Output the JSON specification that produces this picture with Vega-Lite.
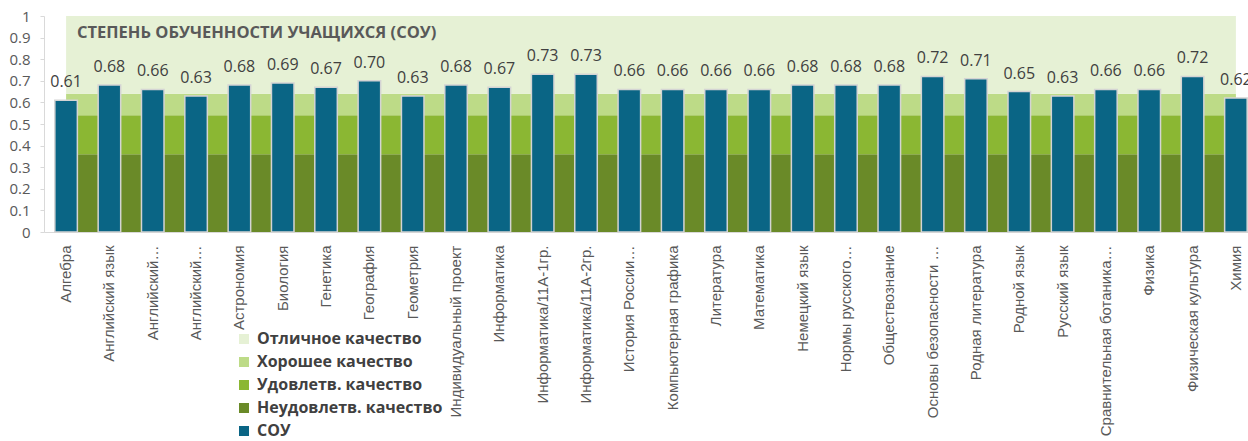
{
  "$schema": "https://vega.github.io/schema/vega-lite/v6.json",
  "width": 1204,
  "height": 216,
  "autosize": {"type": "none"},
  "padding": {"left": 44, "top": 16, "right": 0, "bottom": 209},
  "background": "white",
  "title": {
    "text": "СТЕПЕНЬ ОБУЧЕННОСТИ УЧАЩИХСЯ (СОУ)",
    "anchor": "start",
    "frame": "group",
    "baseline": "alphabetic",
    "offset": 0,
    "dx": 33,
    "dy": 45,
    "font": "Open Sans",
    "fontSize": 16.5,
    "fontWeight": "bold",
    "color": "#595959"
  },
  "datasets": {
    "sou": [
      {"c": "Алгебра", "s": "СОУ", "v": 0.61},
      {"c": "Английский язык", "s": "СОУ", "v": 0.68},
      {"c": "Английский…", "s": "СОУ", "v": 0.66},
      {"c": " Английский…", "s": "СОУ", "v": 0.63},
      {"c": "Астрономия", "s": "СОУ", "v": 0.68},
      {"c": "Биология", "s": "СОУ", "v": 0.69},
      {"c": "Генетика", "s": "СОУ", "v": 0.67},
      {"c": "География", "s": "СОУ", "v": 0.70},
      {"c": "Геометрия", "s": "СОУ", "v": 0.63},
      {"c": "Индивидуальный проект", "s": "СОУ", "v": 0.68},
      {"c": "Информатика", "s": "СОУ", "v": 0.67},
      {"c": "Информатика/11А-1гр.", "s": "СОУ", "v": 0.73},
      {"c": "Информатика/11А-2гр.", "s": "СОУ", "v": 0.73},
      {"c": "История России…", "s": "СОУ", "v": 0.66},
      {"c": "Компьютерная графика", "s": "СОУ", "v": 0.66},
      {"c": "Литература", "s": "СОУ", "v": 0.66},
      {"c": "Математика", "s": "СОУ", "v": 0.66},
      {"c": "Немецкий язык", "s": "СОУ", "v": 0.68},
      {"c": "Нормы русского…", "s": "СОУ", "v": 0.68},
      {"c": "Обществознание", "s": "СОУ", "v": 0.68},
      {"c": "Основы безопасности …", "s": "СОУ", "v": 0.72},
      {"c": "Родная литература", "s": "СОУ", "v": 0.71},
      {"c": "Родной язык", "s": "СОУ", "v": 0.65},
      {"c": "Русский язык", "s": "СОУ", "v": 0.63},
      {"c": "Сравнительная ботаника…", "s": "СОУ", "v": 0.66},
      {"c": "Физика", "s": "СОУ", "v": 0.66},
      {"c": "Физическая культура", "s": "СОУ", "v": 0.72},
      {"c": "Химия", "s": "СОУ", "v": 0.62}
    ],
    "bands": [
      {"c": "Алгебра", "s": "Неудовлетв. качество", "lo": 0, "hi": 0.36},
      {"c": "Алгебра", "s": "Удовлетв. качество", "lo": 0.36, "hi": 0.54},
      {"c": "Алгебра", "s": "Хорошее качество", "lo": 0.54, "hi": 0.64},
      {"c": "Алгебра", "s": "Отличное качество", "lo": 0.64, "hi": 1},
      {"c": "Английский язык", "s": "Неудовлетв. качество", "lo": 0, "hi": 0.36},
      {"c": "Английский язык", "s": "Удовлетв. качество", "lo": 0.36, "hi": 0.54},
      {"c": "Английский язык", "s": "Хорошее качество", "lo": 0.54, "hi": 0.64},
      {"c": "Английский язык", "s": "Отличное качество", "lo": 0.64, "hi": 1},
      {"c": "Английский…", "s": "Неудовлетв. качество", "lo": 0, "hi": 0.36},
      {"c": "Английский…", "s": "Удовлетв. качество", "lo": 0.36, "hi": 0.54},
      {"c": "Английский…", "s": "Хорошее качество", "lo": 0.54, "hi": 0.64},
      {"c": "Английский…", "s": "Отличное качество", "lo": 0.64, "hi": 1},
      {"c": " Английский…", "s": "Неудовлетв. качество", "lo": 0, "hi": 0.36},
      {"c": " Английский…", "s": "Удовлетв. качество", "lo": 0.36, "hi": 0.54},
      {"c": " Английский…", "s": "Хорошее качество", "lo": 0.54, "hi": 0.64},
      {"c": " Английский…", "s": "Отличное качество", "lo": 0.64, "hi": 1},
      {"c": "Астрономия", "s": "Неудовлетв. качество", "lo": 0, "hi": 0.36},
      {"c": "Астрономия", "s": "Удовлетв. качество", "lo": 0.36, "hi": 0.54},
      {"c": "Астрономия", "s": "Хорошее качество", "lo": 0.54, "hi": 0.64},
      {"c": "Астрономия", "s": "Отличное качество", "lo": 0.64, "hi": 1},
      {"c": "Биология", "s": "Неудовлетв. качество", "lo": 0, "hi": 0.36},
      {"c": "Биология", "s": "Удовлетв. качество", "lo": 0.36, "hi": 0.54},
      {"c": "Биология", "s": "Хорошее качество", "lo": 0.54, "hi": 0.64},
      {"c": "Биология", "s": "Отличное качество", "lo": 0.64, "hi": 1},
      {"c": "Генетика", "s": "Неудовлетв. качество", "lo": 0, "hi": 0.36},
      {"c": "Генетика", "s": "Удовлетв. качество", "lo": 0.36, "hi": 0.54},
      {"c": "Генетика", "s": "Хорошее качество", "lo": 0.54, "hi": 0.64},
      {"c": "Генетика", "s": "Отличное качество", "lo": 0.64, "hi": 1},
      {"c": "География", "s": "Неудовлетв. качество", "lo": 0, "hi": 0.36},
      {"c": "География", "s": "Удовлетв. качество", "lo": 0.36, "hi": 0.54},
      {"c": "География", "s": "Хорошее качество", "lo": 0.54, "hi": 0.64},
      {"c": "География", "s": "Отличное качество", "lo": 0.64, "hi": 1},
      {"c": "Геометрия", "s": "Неудовлетв. качество", "lo": 0, "hi": 0.36},
      {"c": "Геометрия", "s": "Удовлетв. качество", "lo": 0.36, "hi": 0.54},
      {"c": "Геометрия", "s": "Хорошее качество", "lo": 0.54, "hi": 0.64},
      {"c": "Геометрия", "s": "Отличное качество", "lo": 0.64, "hi": 1},
      {"c": "Индивидуальный проект", "s": "Неудовлетв. качество", "lo": 0, "hi": 0.36},
      {"c": "Индивидуальный проект", "s": "Удовлетв. качество", "lo": 0.36, "hi": 0.54},
      {"c": "Индивидуальный проект", "s": "Хорошее качество", "lo": 0.54, "hi": 0.64},
      {"c": "Индивидуальный проект", "s": "Отличное качество", "lo": 0.64, "hi": 1},
      {"c": "Информатика", "s": "Неудовлетв. качество", "lo": 0, "hi": 0.36},
      {"c": "Информатика", "s": "Удовлетв. качество", "lo": 0.36, "hi": 0.54},
      {"c": "Информатика", "s": "Хорошее качество", "lo": 0.54, "hi": 0.64},
      {"c": "Информатика", "s": "Отличное качество", "lo": 0.64, "hi": 1},
      {"c": "Информатика/11А-1гр.", "s": "Неудовлетв. качество", "lo": 0, "hi": 0.36},
      {"c": "Информатика/11А-1гр.", "s": "Удовлетв. качество", "lo": 0.36, "hi": 0.54},
      {"c": "Информатика/11А-1гр.", "s": "Хорошее качество", "lo": 0.54, "hi": 0.64},
      {"c": "Информатика/11А-1гр.", "s": "Отличное качество", "lo": 0.64, "hi": 1},
      {"c": "Информатика/11А-2гр.", "s": "Неудовлетв. качество", "lo": 0, "hi": 0.36},
      {"c": "Информатика/11А-2гр.", "s": "Удовлетв. качество", "lo": 0.36, "hi": 0.54},
      {"c": "Информатика/11А-2гр.", "s": "Хорошее качество", "lo": 0.54, "hi": 0.64},
      {"c": "Информатика/11А-2гр.", "s": "Отличное качество", "lo": 0.64, "hi": 1},
      {"c": "История России…", "s": "Неудовлетв. качество", "lo": 0, "hi": 0.36},
      {"c": "История России…", "s": "Удовлетв. качество", "lo": 0.36, "hi": 0.54},
      {"c": "История России…", "s": "Хорошее качество", "lo": 0.54, "hi": 0.64},
      {"c": "История России…", "s": "Отличное качество", "lo": 0.64, "hi": 1},
      {"c": "Компьютерная графика", "s": "Неудовлетв. качество", "lo": 0, "hi": 0.36},
      {"c": "Компьютерная графика", "s": "Удовлетв. качество", "lo": 0.36, "hi": 0.54},
      {"c": "Компьютерная графика", "s": "Хорошее качество", "lo": 0.54, "hi": 0.64},
      {"c": "Компьютерная графика", "s": "Отличное качество", "lo": 0.64, "hi": 1},
      {"c": "Литература", "s": "Неудовлетв. качество", "lo": 0, "hi": 0.36},
      {"c": "Литература", "s": "Удовлетв. качество", "lo": 0.36, "hi": 0.54},
      {"c": "Литература", "s": "Хорошее качество", "lo": 0.54, "hi": 0.64},
      {"c": "Литература", "s": "Отличное качество", "lo": 0.64, "hi": 1},
      {"c": "Математика", "s": "Неудовлетв. качество", "lo": 0, "hi": 0.36},
      {"c": "Математика", "s": "Удовлетв. качество", "lo": 0.36, "hi": 0.54},
      {"c": "Математика", "s": "Хорошее качество", "lo": 0.54, "hi": 0.64},
      {"c": "Математика", "s": "Отличное качество", "lo": 0.64, "hi": 1},
      {"c": "Немецкий язык", "s": "Неудовлетв. качество", "lo": 0, "hi": 0.36},
      {"c": "Немецкий язык", "s": "Удовлетв. качество", "lo": 0.36, "hi": 0.54},
      {"c": "Немецкий язык", "s": "Хорошее качество", "lo": 0.54, "hi": 0.64},
      {"c": "Немецкий язык", "s": "Отличное качество", "lo": 0.64, "hi": 1},
      {"c": "Нормы русского…", "s": "Неудовлетв. качество", "lo": 0, "hi": 0.36},
      {"c": "Нормы русского…", "s": "Удовлетв. качество", "lo": 0.36, "hi": 0.54},
      {"c": "Нормы русского…", "s": "Хорошее качество", "lo": 0.54, "hi": 0.64},
      {"c": "Нормы русского…", "s": "Отличное качество", "lo": 0.64, "hi": 1},
      {"c": "Обществознание", "s": "Неудовлетв. качество", "lo": 0, "hi": 0.36},
      {"c": "Обществознание", "s": "Удовлетв. качество", "lo": 0.36, "hi": 0.54},
      {"c": "Обществознание", "s": "Хорошее качество", "lo": 0.54, "hi": 0.64},
      {"c": "Обществознание", "s": "Отличное качество", "lo": 0.64, "hi": 1},
      {"c": "Основы безопасности …", "s": "Неудовлетв. качество", "lo": 0, "hi": 0.36},
      {"c": "Основы безопасности …", "s": "Удовлетв. качество", "lo": 0.36, "hi": 0.54},
      {"c": "Основы безопасности …", "s": "Хорошее качество", "lo": 0.54, "hi": 0.64},
      {"c": "Основы безопасности …", "s": "Отличное качество", "lo": 0.64, "hi": 1},
      {"c": "Родная литература", "s": "Неудовлетв. качество", "lo": 0, "hi": 0.36},
      {"c": "Родная литература", "s": "Удовлетв. качество", "lo": 0.36, "hi": 0.54},
      {"c": "Родная литература", "s": "Хорошее качество", "lo": 0.54, "hi": 0.64},
      {"c": "Родная литература", "s": "Отличное качество", "lo": 0.64, "hi": 1},
      {"c": "Родной язык", "s": "Неудовлетв. качество", "lo": 0, "hi": 0.36},
      {"c": "Родной язык", "s": "Удовлетв. качество", "lo": 0.36, "hi": 0.54},
      {"c": "Родной язык", "s": "Хорошее качество", "lo": 0.54, "hi": 0.64},
      {"c": "Родной язык", "s": "Отличное качество", "lo": 0.64, "hi": 1},
      {"c": "Русский язык", "s": "Неудовлетв. качество", "lo": 0, "hi": 0.36},
      {"c": "Русский язык", "s": "Удовлетв. качество", "lo": 0.36, "hi": 0.54},
      {"c": "Русский язык", "s": "Хорошее качество", "lo": 0.54, "hi": 0.64},
      {"c": "Русский язык", "s": "Отличное качество", "lo": 0.64, "hi": 1},
      {"c": "Сравнительная ботаника…", "s": "Неудовлетв. качество", "lo": 0, "hi": 0.36},
      {"c": "Сравнительная ботаника…", "s": "Удовлетв. качество", "lo": 0.36, "hi": 0.54},
      {"c": "Сравнительная ботаника…", "s": "Хорошее качество", "lo": 0.54, "hi": 0.64},
      {"c": "Сравнительная ботаника…", "s": "Отличное качество", "lo": 0.64, "hi": 1},
      {"c": "Физика", "s": "Неудовлетв. качество", "lo": 0, "hi": 0.36},
      {"c": "Физика", "s": "Удовлетв. качество", "lo": 0.36, "hi": 0.54},
      {"c": "Физика", "s": "Хорошее качество", "lo": 0.54, "hi": 0.64},
      {"c": "Физика", "s": "Отличное качество", "lo": 0.64, "hi": 1},
      {"c": "Физическая культура", "s": "Неудовлетв. качество", "lo": 0, "hi": 0.36},
      {"c": "Физическая культура", "s": "Удовлетв. качество", "lo": 0.36, "hi": 0.54},
      {"c": "Физическая культура", "s": "Хорошее качество", "lo": 0.54, "hi": 0.64},
      {"c": "Физическая культура", "s": "Отличное качество", "lo": 0.64, "hi": 1},
      {"c": "Химия", "s": "Неудовлетв. качество", "lo": 0, "hi": 0.36},
      {"c": "Химия", "s": "Удовлетв. качество", "lo": 0.36, "hi": 0.54},
      {"c": "Химия", "s": "Хорошее качество", "lo": 0.54, "hi": 0.64},
      {"c": "Химия", "s": "Отличное качество", "lo": 0.64, "hi": 1}
    ]
  },
  "config": {
    "view": {"stroke": null},
    "axisX": {
      "labelAngle": -90,
      "ticks": false,
      "domainColor": "#D9D9D9",
      "domainWidth": 1,
      "labelFont": "Liberation Sans",
      "labelFontSize": 15,
      "labelColor": "#595959",
      "labelPadding": 13,
      "labelLimit": 300,
      "labelOverlap": false,
      "title": null
    },
    "axisY": {
      "grid": false,
      "domainColor": "#D9D9D9",
      "tickColor": "#D9D9D9",
      "tickSize": 4,
      "labelFont": "Open Sans",
      "labelFontSize": 15,
      "labelColor": "#595959",
      "labelPadding": 10,
      "labelOverlap": false,
      "labelFlush": false,
      "title": null
    },
    "legend": {
      "orient": "none",
      "legendX": 192,
      "legendY": 315,
      "title": null,
      "symbolType": "square",
      "symbolSize": 100,
      "symbolStrokeWidth": 0,
      "labelFont": "Open Sans",
      "labelFontSize": 16,
      "labelFontWeight": "bold",
      "labelColor": "#404040",
      "labelLimit": 400,
      "rowPadding": 7,
      "labelOffset": 5
    }
  },
  "layer": [
    {
      "data": {"name": "bands"},
      "mark": {"type": "area", "opacity": 1},
      "encoding": {
        "x": {"field": "c", "type": "nominal", "sort": null, "bandPosition": 0.5,
              "scale": {"type": "band", "paddingInner": 0.48, "paddingOuter": 0.25, "range": [0, 1214]}},
        "y": {"field": "lo", "type": "quantitative", "scale": {"domain": [0, 1]},
              "axis": {"values": [0, 0.1, 0.2, 0.3, 0.4, 0.5, 0.6, 0.7, 0.8, 0.9, 1], "format": ".1~f", "labelOverlap": false}},
        "y2": {"field": "hi"},
        "color": {"field": "s", "type": "nominal",
                  "scale": {"domain": ["Отличное качество", "Хорошее качество", "Удовлетв. качество", "Неудовлетв. качество", "СОУ"],
                            "range": ["#E6F1D5", "#BDDB87", "#8BB733", "#6A8A28", "#0A6585"]}}
      }
    },
    {
      "data": {"name": "sou"},
      "mark": {"type": "bar", "stroke": "#D4D4D4", "strokeWidth": 1.5},
      "encoding": {
        "x": {"field": "c", "type": "nominal", "sort": null,
              "scale": {"type": "band", "paddingInner": 0.48, "paddingOuter": 0.25, "range": [0, 1214]}},
        "y": {"field": "v", "type": "quantitative", "stack": null, "scale": {"domain": [0, 1]},
              "axis": {"values": [0, 0.1, 0.2, 0.3, 0.4, 0.5, 0.6, 0.7, 0.8, 0.9, 1], "format": ".1~f", "labelOverlap": false}},
        "color": {"field": "s", "type": "nominal"}
      }
    },
    {
      "data": {"name": "sou"},
      "mark": {"type": "text", "dy": -18, "font": "Open Sans", "fontSize": 16, "color": "#404040"},
      "encoding": {
        "x": {"field": "c", "type": "nominal", "sort": null,
              "scale": {"type": "band", "paddingInner": 0.48, "paddingOuter": 0.25, "range": [0, 1214]}},
        "y": {"field": "v", "type": "quantitative", "scale": {"domain": [0, 1]},
              "axis": {"values": [0, 0.1, 0.2, 0.3, 0.4, 0.5, 0.6, 0.7, 0.8, 0.9, 1], "format": ".1~f", "labelOverlap": false}},
        "text": {"field": "v", "type": "quantitative", "format": ".2f"}
      }
    }
  ]
}
